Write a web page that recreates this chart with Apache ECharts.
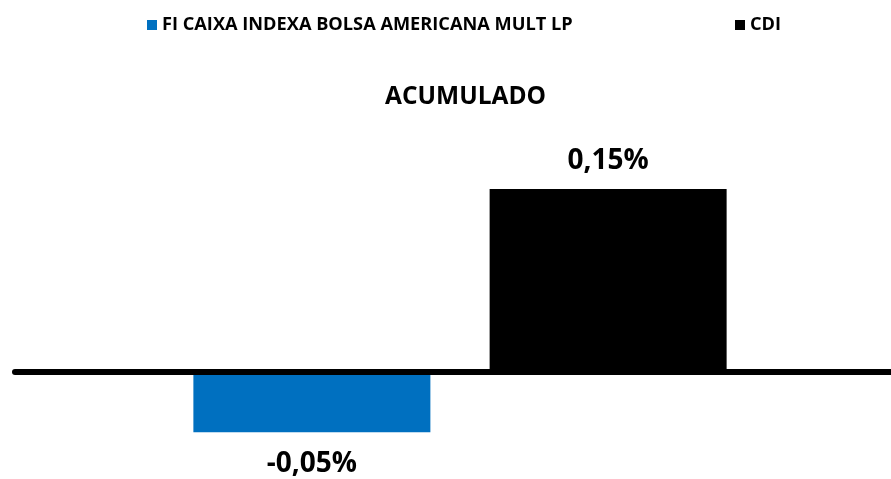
<!DOCTYPE html>
<html>
<head>
<meta charset="utf-8">
<script src="https://cdn.jsdelivr.net/npm/echarts@6/dist/echarts.min.js"></script>
<style>
html,body{margin:0;padding:0;background:#fff;overflow:hidden;width:891px;height:479px;}
#c{width:905px;height:479px;}
</style>
</head>
<body>
<div id="c"></div>
<script>
const categories = ['ACUMULADO'];
const seriesNames = ['FI CAIXA INDEXA BOLSA AMERICANA MULT LP', 'CDI'];
const fundValues = [-0.05];
const cdiValues = [0.15];
const colors = ['#0070C0', '#000000'];

const FONT = '"Open Sans"';
const chart = echarts.init(document.getElementById('c'));
const fmt = p => p.value.toFixed(2).replace('.', ',') + '%';
const legendText = {fontFamily: FONT, fontWeight: 'bold', fontSize: 18.2, color: '#000'};
chart.setOption({
  animation: false,
  textStyle: {fontFamily: FONT},
  title: {
    text: categories[0],
    left: 385, top: 85, padding: 0,
    textStyle: {fontFamily: FONT, fontWeight: 'bold', fontSize: 24.5, color: '#000'}
  },
  legend: [
    {data: [seriesNames[0]], left: 147, top: 16, padding: 0, itemWidth: 10, itemHeight: 10, itemGap: 0,
     icon: 'rect', textStyle: legendText},
    {data: [seriesNames[1]], left: 735, top: 16, padding: 0, itemWidth: 10, itemHeight: 10, itemGap: 0,
     icon: 'rect', textStyle: legendText}
  ],
  grid: {left: 15, right: 0, top: 128.2, bottom: 10.2},
  xAxis: {
    type: 'category', data: categories, z: 5,
    axisLine: {onZero: true, lineStyle: {color: '#000', width: 6}},
    axisTick: {show: false}, axisLabel: {show: false}
  },
  yAxis: {
    type: 'value', min: -0.08, max: 0.2, show: false,
    splitLine: {show: false}
  },
  series: [
    {name: seriesNames[0], type: 'bar', data: fundValues, barWidth: 237, barGap: '25%',
     itemStyle: {color: colors[0]},
     label: {show: true, position: 'bottom', distance: 18, formatter: fmt,
             fontFamily: FONT, fontWeight: 'bold', fontSize: 28, color: '#000'}},
    {name: seriesNames[1], type: 'bar', data: cdiValues, barWidth: 237, barGap: '25%',
     itemStyle: {color: colors[1]},
     label: {show: true, position: 'top', distance: 14, formatter: fmt,
             fontFamily: FONT, fontWeight: 'bold', fontSize: 28, color: '#000'}}
  ]
});
</script>
</body>
</html>
